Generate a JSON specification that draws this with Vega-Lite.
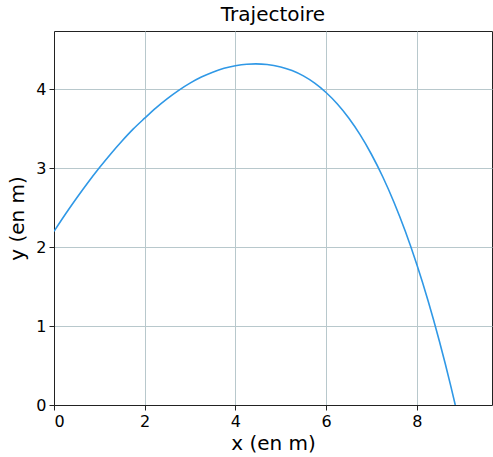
{
  "$schema": "https://vega.github.io/schema/vega-lite/v6.json",
  "autosize": "none",
  "width": 438,
  "height": 374,
  "padding": {"left": 54, "top": 31, "right": 1, "bottom": 52},
  "background": "white",
  "title": {"text": "Trajectoire", "font": "DejaVu Sans", "fontSize": 20, "fontWeight": "normal", "color": "black", "anchor": "middle", "offset": 6},
  "config": {
    "view": {"stroke": "#222", "strokeWidth": 1},
    "axis": {
      "labelFont": "DejaVu Sans", "labelFontSize": 16, "labelColor": "black",
      "titleFont": "DejaVu Sans", "titleFontSize": 20, "titleFontWeight": "normal", "titleColor": "black",
      "domainColor": "#222", "tickColor": "#222", "tickSize": 5,
      "gridColor": "#b8c8cc", "gridWidth": 1
    }
  },
  "data": {"values": [
    {"x": 0, "y": 2.2},
    {"x": 0.25, "y": 2.417},
    {"x": 0.5, "y": 2.623},
    {"x": 0.75, "y": 2.82},
    {"x": 1.0, "y": 3.006},
    {"x": 1.25, "y": 3.182},
    {"x": 1.5, "y": 3.346},
    {"x": 1.75, "y": 3.499},
    {"x": 2.0, "y": 3.635},
    {"x": 2.25, "y": 3.766},
    {"x": 2.5, "y": 3.883},
    {"x": 2.75, "y": 3.988},
    {"x": 3.0, "y": 4.079},
    {"x": 3.25, "y": 4.156},
    {"x": 3.5, "y": 4.218},
    {"x": 3.75, "y": 4.267},
    {"x": 4.0, "y": 4.3},
    {"x": 4.25, "y": 4.319},
    {"x": 4.45, "y": 4.323},
    {"x": 4.7, "y": 4.316},
    {"x": 5.0, "y": 4.285},
    {"x": 5.25, "y": 4.239},
    {"x": 5.5, "y": 4.171},
    {"x": 5.75, "y": 4.079},
    {"x": 6.0, "y": 3.961},
    {"x": 6.25, "y": 3.815},
    {"x": 6.5, "y": 3.637},
    {"x": 6.75, "y": 3.426},
    {"x": 7.0, "y": 3.178},
    {"x": 7.25, "y": 2.893},
    {"x": 7.5, "y": 2.567},
    {"x": 7.75, "y": 2.198},
    {"x": 8.0, "y": 1.783},
    {"x": 8.25, "y": 1.321},
    {"x": 8.5, "y": 0.808},
    {"x": 8.75, "y": 0.243},
    {"x": 8.85, "y": 0.0}
  ]},
  "mark": {"type": "line", "color": "#2f98e6", "strokeWidth": 1.6, "interpolate": "monotone", "clip": true},
  "encoding": {
    "x": {"field": "x", "type": "quantitative", "scale": {"domain": [0, 9.66], "nice": false, "zero": false},
      "axis": {"title": "x (en m)", "values": [0, 2, 4, 6, 8], "labelPadding": 3, "titlePadding": 4}},
    "y": {"field": "y", "type": "quantitative", "scale": {"domain": [0, 4.74], "nice": false, "zero": false},
      "axis": {"title": "y (en m)", "values": [0, 1, 2, 3, 4], "labelPadding": 3, "titlePadding": 8}}
  }
}
